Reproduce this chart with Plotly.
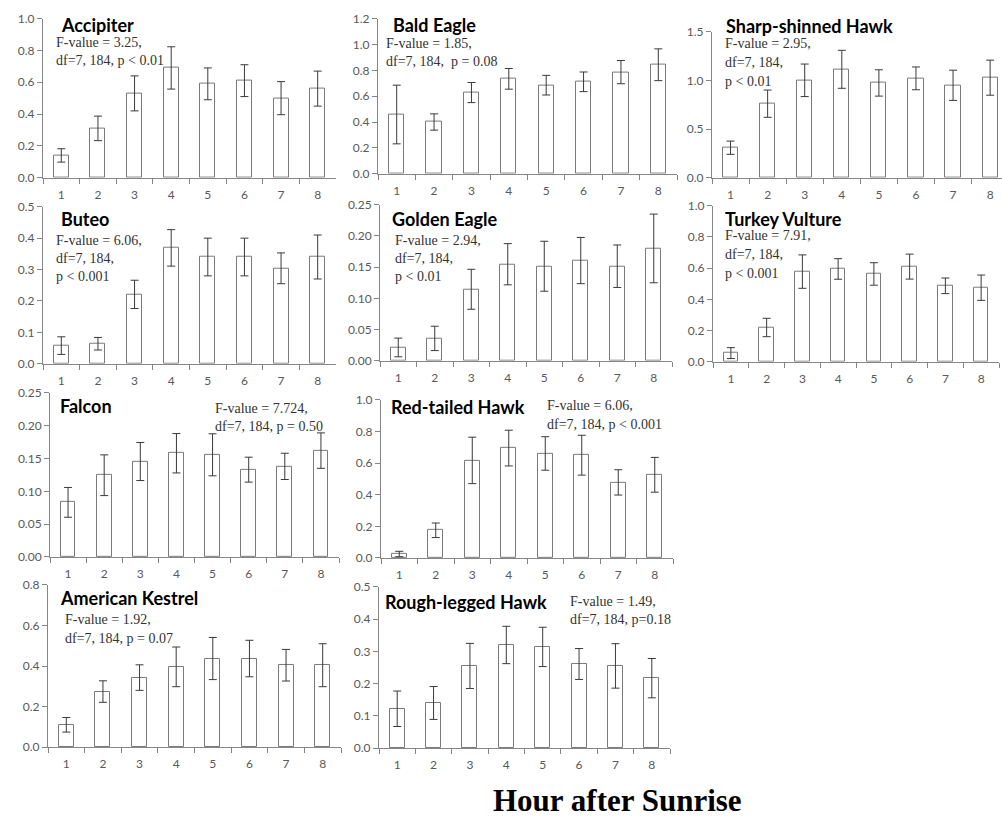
import plotly.graph_objects as go

W, H = 1002, 817

hours = ["1", "2", "3", "4", "5", "6", "7", "8"]

species = ["Accipiter", "Bald Eagle", "Sharp-shinned Hawk", "Buteo", "Golden Eagle",
           "Turkey Vulture", "Falcon", "Red-tailed Hawk", "American Kestrel", "Rough-legged Hawk"]

accipiter = [0.14, 0.31, 0.53, 0.69, 0.59, 0.61, 0.50, 0.56]
accipiter_err = [0.042, 0.077, 0.11, 0.133, 0.10, 0.10, 0.104, 0.11]
bald_eagle = [0.458, 0.40, 0.628, 0.734, 0.685, 0.711, 0.786, 0.843]
bald_eagle_err = [0.227, 0.063, 0.078, 0.08, 0.076, 0.076, 0.09, 0.123]
sharp_shinned = [0.308, 0.76, 1.0, 1.113, 0.973, 1.02, 0.949, 1.027]
sharp_shinned_err = [0.068, 0.14, 0.167, 0.195, 0.135, 0.117, 0.155, 0.18]
buteo = [0.058, 0.064, 0.221, 0.369, 0.34, 0.34, 0.304, 0.34]
buteo_err = [0.028, 0.02, 0.045, 0.058, 0.06, 0.06, 0.049, 0.07]
golden_eagle = [0.0214, 0.0359, 0.1146, 0.1547, 0.1515, 0.1606, 0.1515, 0.18]
golden_eagle_err = [0.015, 0.0195, 0.032, 0.033, 0.04, 0.037, 0.034, 0.055]
turkey_vulture = [0.056, 0.22, 0.578, 0.595, 0.563, 0.61, 0.487, 0.475]
turkey_vulture_err = [0.035, 0.059, 0.107, 0.066, 0.072, 0.08, 0.05, 0.081]
falcon = [0.0832, 0.1245, 0.1454, 0.158, 0.1556, 0.133, 0.138, 0.162]
falcon_err = [0.0227, 0.031, 0.029, 0.03, 0.032, 0.019, 0.02, 0.027]
red_tailed = [0.025, 0.175, 0.617, 0.695, 0.661, 0.65, 0.478, 0.526]
red_tailed_err = [0.017, 0.046, 0.147, 0.113, 0.106, 0.126, 0.08, 0.11]
kestrel = [0.11, 0.274, 0.343, 0.396, 0.437, 0.437, 0.404, 0.404]
kestrel_err = [0.036, 0.053, 0.063, 0.098, 0.104, 0.09, 0.078, 0.106]
rough_legged = [0.122, 0.14, 0.255, 0.32, 0.314, 0.261, 0.255, 0.217]
rough_legged_err = [0.055, 0.051, 0.07, 0.058, 0.061, 0.048, 0.069, 0.061]

stats = [
    ["F-value = 3.25,", "df=7, 184, p < 0.01"],
    ["F-value = 1.85,", "df=7, 184,  p = 0.08"],
    ["F-value = 2.95,", "df=7, 184,", "p < 0.01"],
    ["F-value = 6.06,", "df=7, 184,", "p < 0.001"],
    ["F-value = 2.94,", "df=7, 184,", "p < 0.01"],
    ["F-value = 7.91,", "df=7, 184,", "p < 0.001"],
    ["F-value = 7.724,", "df=7, 184, p = 0.50"],
    ["F-value = 6.06,", "df=7, 184, p < 0.001"],
    ["F-value = 1.92,", "df=7, 184, p = 0.07"],
    ["F-value = 1.49,", "df=7, 184, p=0.18"],
]

values = [accipiter, bald_eagle, sharp_shinned, buteo, golden_eagle,
          turkey_vulture, falcon, red_tailed, kestrel, rough_legged]
errors = [accipiter_err, bald_eagle_err, sharp_shinned_err, buteo_err, golden_eagle_err,
          turkey_vulture_err, falcon_err, red_tailed_err, kestrel_err, rough_legged_err]

y_max = [1.0, 1.2, 1.5, 0.5, 0.25, 1.0, 0.25, 1.0, 0.8, 0.5]
y_step = [0.2, 0.2, 0.5, 0.1, 0.05, 0.2, 0.05, 0.2, 0.2, 0.1]
y_fmt = [".1f", ".1f", ".1f", ".1f", ".2f", ".1f", ".2f", ".1f", ".1f", ".1f"]

# layout (pixel boxes in the target picture): x0, x1, ytop, ybottom, xrange_end
boxes = [
    (43, 336, 19, 178, 7.5),
    (378, 677, 19, 174, 7.5),
    (712, 1002, 32, 178, 7.32),
    (43, 336, 207, 364, 7.5),
    (380, 672, 205, 361, 7.5),
    (713, 999, 206, 362, 7.5),
    (50, 339, 393, 557, 7.5),
    (381, 673, 400, 558, 7.5),
    (48, 341, 585, 747, 7.5),
    (379, 670, 587, 748, 7.5),
]
# title position (left x, center y), stats (left x, first line y, line spacing)
title_pos = [(59, 25), (391, 25), (724, 26), (59, 219), (390, 219),
             (723, 219), (58, 406), (389, 407), (58, 598), (383, 602)]
stats_pos = [(54, 43, 18), (384, 44, 18), (723, 44, 19), (54, 241, 18), (393, 241, 18),
             (723, 236, 19), (213, 409, 18), (545, 406, 19), (63, 620, 18), (568, 602, 18)]

AX = "#868686"
fig = go.Figure()
annotations = []

# the photographed page shows a small vertical offset/scale; compensate for it
Y_OFF, Y_SCALE = 8.4, 0.981


def fx(p):
    return p / W


def fy(p):
    q = (p - Y_OFF) / Y_SCALE
    return 1 - q / H


for i in range(len(species)):
    n = "" if i == 0 else str(i + 1)
    x0, x1, yt, yb, xr = boxes[i]
    fig.add_trace(go.Bar(
        x=hours, y=values[i], width=0.41,
        marker=dict(color="white", line=dict(color="#7a7a7a", width=1)),
        error_y=dict(type="data", array=errors[i], color="#3a3a3a", thickness=1, width=4),
        xaxis="x" + n, yaxis="y" + n, showlegend=False, hoverinfo="skip"))
    fig.layout["xaxis" + n] = dict(
        domain=[fx(x0), fx(x1)], anchor="y" + n, type="category",
        range=[-0.5, xr], showline=True, linecolor=AX, linewidth=1,
        ticks="outside", tickson="boundaries", ticklen=5, tickcolor=AX,
        ticklabelstandoff=6,
        showgrid=False, zeroline=False,
        tickfont=dict(family="Lato", size=12, color="#595959"))
    fig.layout["yaxis" + n] = dict(
        domain=[fy(yb), fy(yt)], anchor="x" + n, range=[0, y_max[i]],
        dtick=y_step[i], tick0=0, tickformat=y_fmt[i],
        showline=True, linecolor=AX, linewidth=1,
        ticks="outside", ticklen=5, tickcolor=AX,
        showgrid=False, zeroline=False,
        tickfont=dict(family="Lato", size=12, color="#595959"))
    tx, ty = title_pos[i]
    annotations.append(dict(
        text="<b>" + species[i] + "</b>", x=fx(tx), y=fy(ty), xref="paper", yref="paper",
        xanchor="left", yanchor="middle", showarrow=False,
        font=dict(family="Lato", size=18, color="#000000")))
    sx, sy, sd = stats_pos[i]
    for k, line in enumerate(stats[i]):
        annotations.append(dict(
            text=line, x=fx(sx), y=fy(sy + k * sd), xref="paper", yref="paper",
            xanchor="left", yanchor="middle", showarrow=False,
            font=dict(family="Liberation Serif", size=14, color="#333333")))

annotations.append(dict(
    text="<b>Hour after Sunrise</b>", x=fx(617), y=1 - 807 / H, xref="paper", yref="paper",
    xanchor="center", yanchor="middle", showarrow=False,
    font=dict(family="Liberation Serif", size=31, color="#000000")))

fig.update_layout(
    width=W, height=H, margin=dict(l=0, r=0, t=0, b=0),
    paper_bgcolor="white", plot_bgcolor="white",
    annotations=annotations, bargap=0)

post = (
    "document.documentElement.style.margin='0';"
    "document.documentElement.style.padding='0';"
    "document.documentElement.style.overflow='hidden';"
    "document.body.style.margin='0';"
    "document.body.style.padding='0';"
    "document.body.style.overflow='hidden';"
    "var gd=document.getElementsByClassName('plotly-graph-div')[0];"
    "gd.style.position='absolute';gd.style.top='0px';gd.style.left='0px';"
)

fig.write_html("out.html", config={"displayModeBar": False}, post_script=post)
